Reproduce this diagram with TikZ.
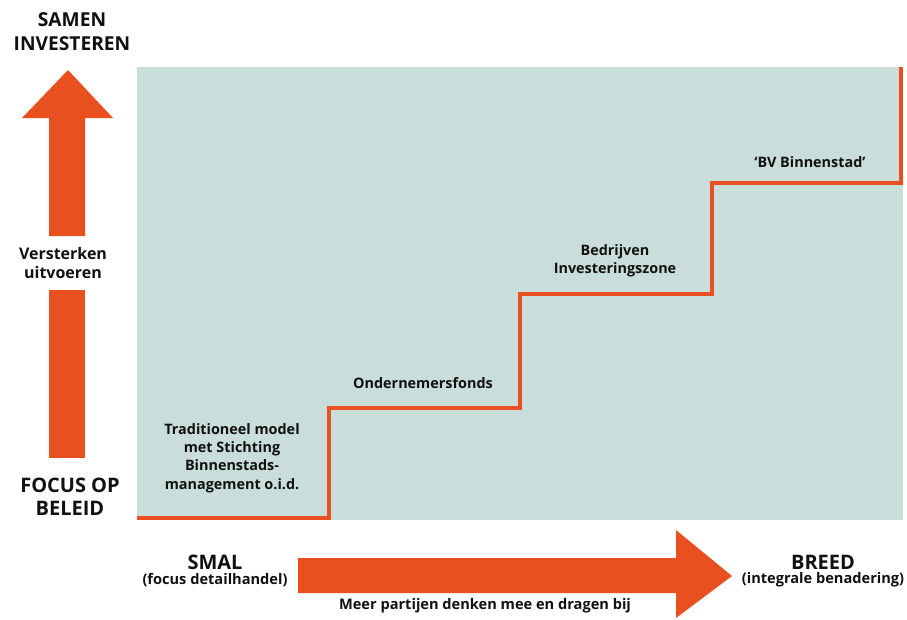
\documentclass[tikz,border=0pt]{standalone}
\usepackage{fontspec}
\setmainfont{Open Sans}
\definecolor{orng}{HTML}{E85020}
\definecolor{teal}{HTML}{C9DEDA}
\definecolor{ink}{HTML}{111111}
\begin{document}
\begin{tikzpicture}[x=1pt,y=-1pt,
  lbl/.style={align=center,text=ink,font=\bfseries\fontsize{14.4}{18.3}\selectfont,inner sep=0pt},
  mlbl/.style={align=center,text=ink,font=\bfseries\fontsize{16}{19.5}\selectfont,inner sep=0pt},
  big/.style={align=center,text=ink,font=\bfseries\fontsize{20}{23}\selectfont,inner sep=0pt},
  topl/.style={align=center,text=ink,font=\bfseries\fontsize{19.2}{24}\selectfont,inner sep=0pt},
  sub/.style={align=center,text=ink,font=\bfseries\fontsize{14.6}{16}\selectfont,inner sep=0pt},
  stair/.style={draw=orng,line width=4pt,line join=miter},
  arr/.style={fill=orng,draw=none}]
\useasboundingbox (0,0) rectangle (907,619);
% panel
\fill[teal] (137,67) rectangle (903,520);
% staircase
\coordinate (s0) at (137,518);
\coordinate (s1) at (329,518);
\coordinate (s2) at (329,408);
\coordinate (s3) at (520,408);
\coordinate (s4) at (520,294);
\coordinate (s5) at (712,294);
\coordinate (s6) at (712,183);
\coordinate (s7) at (901,183);
\coordinate (s8) at (901,67);
\draw[stair] (s0) -- (s1) -- (s2) -- (s3) -- (s4) -- (s5) -- (s6) -- (s7) -- (s8);
% step labels
\node[lbl] (t1) at (232,458) {Traditioneel model\\met Stichting\\Binnenstads-\\management o.i.d.};
\node[lbl] (t2) at (423,383) {Ondernemersfonds};
\node[lbl] (t3) at (615,261) {Bedrijven\\Investeringszone};
\node[lbl] (t4) at (810,162) {‘BV Binnenstad’};
% vertical arrow
\fill[arr] (49,236) -- (49,118) -- (22,118) -- (68,70) -- (113,118) -- (85,118) -- (85,236) -- cycle;
\fill[arr] (49,290) rectangle (85,458);
\node[topl] (top) at (72,32) {SAMEN\\INVESTEREN};
\node[mlbl] (mid) at (63,263) {Versterken\\uitvoeren};
\node[big] (bot) at (70,497) {FOCUS OP\\BELEID};
% horizontal arrow
\fill[arr] (298,558) -- (676,558) -- (676,530) -- (732,576) -- (676,618) -- (676,593) -- (298,593) -- cycle;
\node[big] (smal) at (215,562) {SMAL};
\node[sub] (smals) at (215,580) {(focus detailhandel)};
\node[big] (breed) at (823,562) {BREED};
\node[sub] (breeds) at (823,580) {(integrale benadering)};
\node[sub] (meer) at (485,606) {Meer partijen denken mee en dragen bij};
\end{tikzpicture}
\end{document}
